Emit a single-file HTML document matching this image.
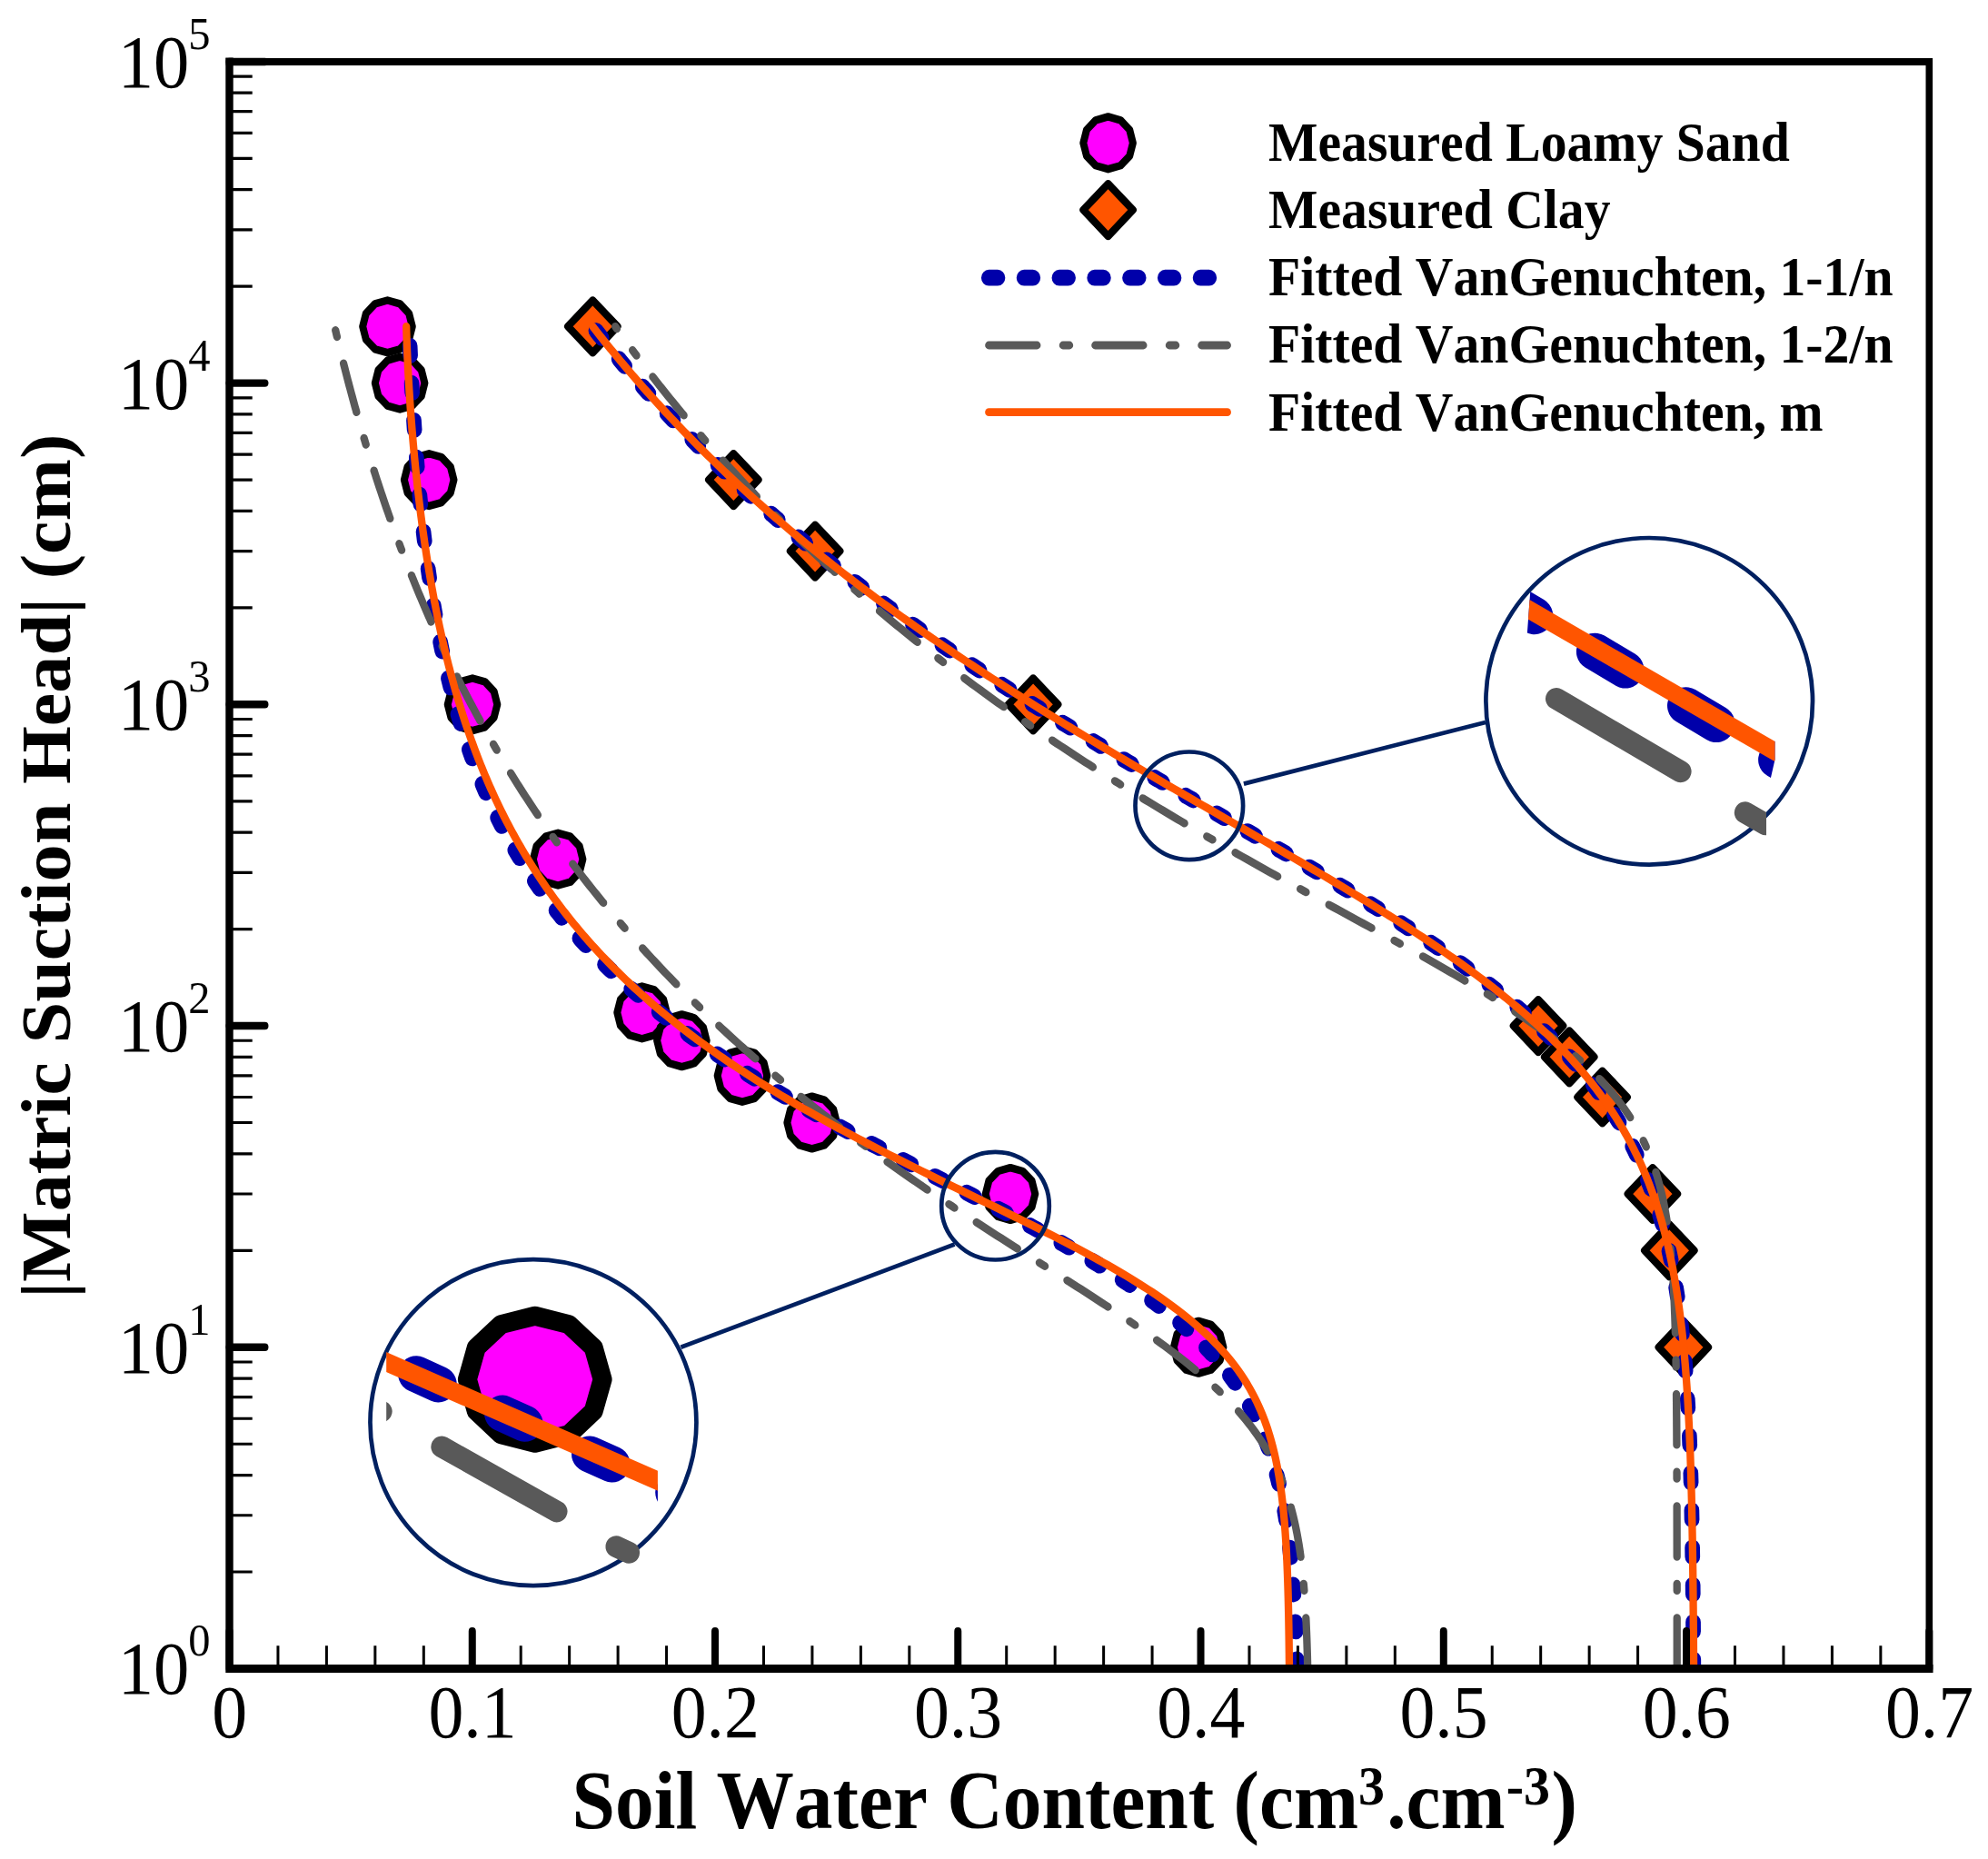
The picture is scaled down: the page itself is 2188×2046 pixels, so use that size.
<!DOCTYPE html>
<html lang="en"><head><meta charset="utf-8"><title>Soil water retention curves</title>
<style>html,body{margin:0;padding:0;background:#fff}svg{display:block}text{font-family:"Liberation Serif","Times New Roman",serif;fill:#000;font-kerning:none}</style></head><body>
<svg xmlns="http://www.w3.org/2000/svg" width="2188" height="2046" viewBox="0 0 2188 2046">
<rect width="2188" height="2046" fill="#fff"/>
<g transform="scale(1,1.057)">
<g fill="#FF00FF" stroke="#000" stroke-width="8.0" stroke-linejoin="round">
<polygon points="426.48,312.66 440.13,316.31 450.13,326.31 453.78,339.96 450.13,353.61 440.13,363.60 426.48,367.26 412.83,363.60 402.84,353.61 399.18,339.96 402.84,326.31 412.83,316.31"/>
<polygon points="440.11,371.58 453.76,375.24 463.76,385.23 467.41,398.88 463.76,412.53 453.76,422.53 440.11,426.18 426.46,422.53 416.47,412.53 412.81,398.88 416.47,385.23 426.46,375.24"/>
<polygon points="472.19,472.32 485.84,475.98 495.83,485.97 499.49,499.62 495.83,513.27 485.84,523.26 472.19,526.92 458.54,523.26 448.54,513.27 444.89,499.62 448.54,485.97 458.54,475.98"/>
<polygon points="520.02,706.23 533.67,709.89 543.67,719.88 547.32,733.53 543.67,747.18 533.67,757.17 520.02,760.83 506.37,757.17 496.38,747.18 492.72,733.53 496.38,719.88 506.37,709.89"/>
<polygon points="614.10,867.36 627.75,871.01 637.74,881.01 641.40,894.66 637.74,908.31 627.75,918.30 614.10,921.96 600.45,918.30 590.46,908.31 586.80,894.66 590.46,881.01 600.45,871.01"/>
<polygon points="706.57,1027.02 720.22,1030.68 730.21,1040.67 733.87,1054.32 730.21,1067.97 720.22,1077.96 706.57,1081.62 692.92,1077.96 682.93,1067.97 679.27,1054.32 682.93,1040.67 692.92,1030.68"/>
<polygon points="750.40,1056.19 764.05,1059.84 774.04,1069.84 777.70,1083.49 774.04,1097.14 764.05,1107.13 750.40,1110.79 736.75,1107.13 726.76,1097.14 723.10,1083.49 726.76,1069.84 736.75,1059.84"/>
<polygon points="816.95,1092.71 830.60,1096.37 840.59,1106.36 844.25,1120.01 840.59,1133.66 830.60,1143.65 816.95,1147.31 803.30,1143.65 793.30,1133.66 789.65,1120.01 793.30,1106.36 803.30,1096.37"/>
<polygon points="893.65,1141.61 907.30,1145.27 917.29,1155.26 920.95,1168.91 917.29,1182.56 907.30,1192.55 893.65,1196.21 880.00,1192.55 870.01,1182.56 866.35,1168.91 870.01,1155.26 880.00,1145.27"/>
<polygon points="1112.00,1215.85 1125.65,1219.51 1135.64,1229.50 1139.30,1243.15 1135.64,1256.80 1125.65,1266.80 1112.00,1270.45 1098.35,1266.80 1088.36,1256.80 1084.70,1243.15 1088.36,1229.50 1098.35,1219.51"/>
<polygon points="1319.12,1375.52 1332.77,1379.18 1342.77,1389.17 1346.42,1402.82 1342.77,1416.47 1332.77,1426.46 1319.12,1430.12 1305.47,1426.46 1295.48,1416.47 1291.82,1402.82 1295.48,1389.17 1305.47,1379.18"/>
<polygon points="1219.60,121.52 1233.25,125.17 1243.24,135.17 1246.90,148.82 1243.24,162.47 1233.25,172.46 1219.60,176.12 1205.95,172.46 1195.96,162.47 1192.30,148.82 1195.96,135.17 1205.95,125.17"/>
</g>
<g fill="#FF5500" stroke="#000" stroke-width="8.0" stroke-linejoin="round">
<polygon points="652.32,312.66 679.62,339.96 652.32,367.26 625.02,339.96"/>
<polygon points="807.33,472.32 834.63,499.62 807.33,526.92 780.03,499.62"/>
<polygon points="897.12,546.56 924.42,573.86 897.12,601.16 869.82,573.86"/>
<polygon points="1137.12,706.23 1164.42,733.53 1137.12,760.83 1109.82,733.53"/>
<polygon points="1693.02,1040.87 1720.32,1068.17 1693.02,1095.47 1665.72,1068.17"/>
<polygon points="1727.22,1073.30 1754.52,1100.60 1727.22,1127.90 1699.92,1100.60"/>
<polygon points="1763.57,1115.11 1790.87,1142.41 1763.57,1169.71 1736.27,1142.41"/>
<polygon points="1818.89,1215.85 1846.19,1243.15 1818.89,1270.45 1791.59,1243.15"/>
<polygon points="1837.33,1274.78 1864.63,1302.08 1837.33,1329.38 1810.03,1302.08"/>
<polygon points="1852.84,1375.52 1880.14,1402.82 1852.84,1430.12 1825.54,1402.82"/>
<polygon points="1219.60,191.34 1246.90,218.64 1219.60,245.94 1192.30,218.64"/>
</g>
<defs><clipPath id="plot"><rect x="252.5" y="64.24" width="1870.80" height="1673.23"/></clipPath></defs>
<g fill="none" stroke-linecap="round" stroke-linejoin="round">
<g stroke="#0000AA" stroke-width="16.7" stroke-dasharray="9.70 29.10">
<g clip-path="url(#plot)"><path d="M1427.42,1737.46 L1427.34,1734.66 L1427.26,1731.86 L1427.18,1729.06 L1427.09,1726.26 L1427.00,1723.46 L1426.91,1720.66 L1426.81,1717.86 L1426.71,1715.06 L1426.61,1712.26 L1426.50,1709.46 L1426.40,1706.66 L1426.28,1703.86 L1426.17,1701.06 L1426.04,1698.26 L1425.92,1695.46 L1425.79,1692.65 L1425.66,1689.85 L1425.52,1687.05 L1425.38,1684.25 L1425.23,1681.45 L1425.08,1678.65 L1424.92,1675.85 L1424.76,1673.05 L1424.59,1670.25 L1424.42,1667.45 L1424.24,1664.65 L1424.06,1661.85 L1423.87,1659.05 L1423.67,1656.25 L1423.47,1653.45 L1423.26,1650.65 L1423.04,1647.84 L1422.81,1645.04 L1422.58,1642.24 L1422.34,1639.44 L1422.10,1636.64 L1421.84,1633.84 L1421.58,1631.04 L1421.31,1628.24 L1421.02,1625.44 L1420.73,1622.64 L1420.43,1619.84 L1420.12,1617.04 L1419.80,1614.24 L1419.47,1611.44 L1419.13,1608.64 L1418.78,1605.84 L1418.42,1603.03 L1418.04,1600.23 L1417.66,1597.43 L1417.26,1594.63 L1416.84,1591.83 L1416.42,1589.03 L1415.98,1586.23 L1415.52,1583.43 L1415.05,1580.63 L1414.57,1577.83 L1414.07,1575.03 L1413.56,1572.23 L1413.03,1569.43 L1412.48,1566.63 L1411.91,1563.83 L1411.33,1561.03 L1410.73,1558.22 L1410.11,1555.42 L1409.47,1552.62 L1408.81,1549.82 L1408.13,1547.02 L1407.42,1544.22 L1406.70,1541.42 L1405.95,1538.62 L1405.18,1535.82 L1404.39,1533.02 L1403.57,1530.22 L1402.73,1527.42 L1401.86,1524.62 L1400.96,1521.82 L1400.04,1519.02 L1399.09,1516.22 L1398.11,1513.41 L1397.10,1510.61 L1396.06,1507.81 L1394.99,1505.01 L1393.89,1502.21 L1392.76,1499.41 L1391.59,1496.61 L1390.39,1493.81 L1389.15,1491.01 L1387.87,1488.21 L1386.56,1485.41 L1385.22,1482.61 L1383.83,1479.81 L1382.40,1477.01 L1380.94,1474.21 L1379.43,1471.41 L1377.88,1468.61 L1376.28,1465.80 L1374.65,1463.00 L1372.96,1460.20 L1371.23,1457.40 L1369.46,1454.60 L1367.63,1451.80 L1365.76,1449.00 L1363.84,1446.20 L1361.87,1443.40 L1359.84,1440.60 L1357.77,1437.80 L1355.64,1435.00 L1353.45,1432.20 L1351.21,1429.40 L1348.91,1426.60 L1346.56,1423.80 L1344.15,1420.99 L1341.68,1418.19 L1339.15,1415.39 L1336.56,1412.59 L1333.91,1409.79 L1331.20,1406.99 L1328.43,1404.19 L1325.59,1401.39 L1322.69,1398.59 L1319.73,1395.79 L1316.70,1392.99 L1313.60,1390.19 L1310.44,1387.39 L1307.22,1384.59 L1303.92,1381.79 L1300.56,1378.99 L1297.14,1376.18 L1293.64,1373.38 L1290.08,1370.58 L1286.45,1367.78 L1282.75,1364.98 L1278.99,1362.18 L1275.15,1359.38 L1271.25,1356.58 L1267.29,1353.78 L1263.25,1350.98 L1259.15,1348.18 L1254.98,1345.38 L1250.75,1342.58 L1246.45,1339.78 L1242.09,1336.98 L1237.66,1334.18 L1233.17,1331.37 L1228.61,1328.57 L1224.00,1325.77 L1219.32,1322.97 L1214.59,1320.17 L1209.79,1317.37 L1204.94,1314.57 L1200.04,1311.77 L1195.07,1308.97 L1190.06,1306.17 L1184.99,1303.37 L1179.87,1300.57 L1174.70,1297.77 L1169.49,1294.97 L1164.22,1292.17 L1158.92,1289.37 L1153.57,1286.56 L1148.18,1283.76 L1142.75,1280.96 L1137.28,1278.16 L1131.78,1275.36 L1126.25,1272.56 L1120.68,1269.76 L1115.08,1266.96 L1109.46,1264.16 L1103.81,1261.36 L1098.13,1258.56 L1092.44,1255.76 L1086.72,1252.96 L1080.99,1250.16 L1075.24,1247.36 L1069.48,1244.56 L1063.70,1241.75 L1057.92,1238.95 L1052.12,1236.15 L1046.33,1233.35 L1040.52,1230.55 L1034.72,1227.75 L1028.91,1224.95 L1023.11,1222.15 L1017.31,1219.35 L1011.52,1216.55 L1005.73,1213.75 L999.96,1210.95 L994.19,1208.15 L988.43,1205.35 L982.69,1202.55 L976.97,1199.75 L971.26,1196.95 L965.57,1194.14 L959.90,1191.34 L954.26,1188.54 L948.63,1185.74 L943.03,1182.94 L937.46,1180.14 L931.91,1177.34 L926.39,1174.54 L920.90,1171.74 L915.44,1168.94 L910.01,1166.14 L904.62,1163.34 L899.25,1160.54 L893.92,1157.74 L888.63,1154.94 L883.37,1152.14 L878.15,1149.33 L872.97,1146.53 L867.82,1143.73 L862.72,1140.93 L857.65,1138.13 L852.62,1135.33 L847.64,1132.53 L842.69,1129.73 L837.79,1126.93 L832.93,1124.13 L828.11,1121.33 L823.33,1118.53 L818.60,1115.73 L813.90,1112.93 L809.26,1110.13 L804.65,1107.33 L800.10,1104.52 L795.58,1101.72 L791.11,1098.92 L786.68,1096.12 L782.30,1093.32 L777.96,1090.52 L773.67,1087.72 L769.42,1084.92 L765.22,1082.12 L761.06,1079.32 L756.94,1076.52 L752.87,1073.72 L748.84,1070.92 L744.86,1068.12 L740.92,1065.32 L737.02,1062.52 L733.17,1059.71 L729.36,1056.91 L725.60,1054.11 L721.88,1051.31 L718.20,1048.51 L714.56,1045.71 L710.97,1042.91 L707.42,1040.11 L703.91,1037.31 L700.44,1034.51 L697.01,1031.71 L693.63,1028.91 L690.28,1026.11 L686.97,1023.31 L683.71,1020.51 L680.48,1017.71 L677.30,1014.90 L674.15,1012.10 L671.05,1009.30 L667.98,1006.50 L664.94,1003.70 L661.95,1000.90 L659.00,998.10 L656.08,995.30 L653.20,992.50 L650.35,989.70 L647.54,986.90 L644.77,984.10 L642.03,981.30 L639.33,978.50 L636.66,975.70 L634.02,972.90 L631.42,970.09 L628.85,967.29 L626.32,964.49 L623.82,961.69 L621.35,958.89 L618.91,956.09 L616.51,953.29 L614.14,950.49 L611.79,947.69 L609.48,944.89 L607.20,942.09 L604.95,939.29 L602.73,936.49 L600.54,933.69 L598.37,930.89 L596.24,928.09 L594.13,925.28 L592.06,922.48 L590.00,919.68 L587.98,916.88 L585.98,914.08 L584.02,911.28 L582.07,908.48 L580.15,905.68 L578.26,902.88 L576.40,900.08 L574.55,897.28 L572.74,894.48 L570.94,891.68 L569.18,888.88 L567.43,886.08 L565.71,883.28 L564.01,880.48 L562.34,877.67 L560.69,874.87 L559.06,872.07 L557.45,869.27 L555.86,866.47 L554.30,863.67 L552.75,860.87 L551.23,858.07 L549.73,855.27 L548.25,852.47 L546.79,849.67 L545.34,846.87 L543.92,844.07 L542.52,841.27 L541.14,838.47 L539.77,835.67 L538.43,832.86 L537.10,830.06 L535.79,827.26 L534.50,824.46 L533.22,821.66 L531.96,818.86 L530.72,816.06 L529.50,813.26 L528.30,810.46 L527.11,807.66 L525.93,804.86 L524.78,802.06 L523.63,799.26 L522.51,796.46 L521.40,793.66 L520.30,790.86 L519.22,788.05 L518.16,785.25 L517.11,782.45 L516.07,779.65 L515.05,776.85 L514.04,774.05 L513.05,771.25 L512.06,768.45 L511.10,765.65 L510.14,762.85 L509.20,760.05 L508.27,757.25 L507.36,754.45 L506.46,751.65 L505.57,748.85 L504.69,746.05 L503.82,743.24 L502.97,740.44 L502.13,737.64 L501.30,734.84 L500.48,732.04 L499.67,729.24 L498.87,726.44 L498.09,723.64 L497.31,720.84 L496.55,718.04 L495.79,715.24 L495.05,712.44 L494.31,709.64 L493.59,706.84 L492.88,704.04 L492.17,701.24 L491.48,698.43 L490.80,695.63 L490.12,692.83 L489.46,690.03 L488.80,687.23 L488.15,684.43 L487.51,681.63 L486.88,678.83 L486.26,676.03 L485.65,673.23 L485.05,670.43 L484.45,667.63 L483.86,664.83 L483.28,662.03 L482.71,659.23 L482.15,656.43 L481.59,653.62 L481.05,650.82 L480.51,648.02 L479.97,645.22 L479.45,642.42 L478.93,639.62 L478.42,636.82 L477.91,634.02 L477.42,631.22 L476.92,628.42 L476.44,625.62 L475.96,622.82 L475.49,620.02 L475.03,617.22 L474.57,614.42 L474.12,611.62 L473.68,608.81 L473.24,606.01 L472.80,603.21 L472.38,600.41 L471.96,597.61 L471.54,594.81 L471.13,592.01 L470.73,589.21 L470.33,586.41 L469.94,583.61 L469.55,580.81 L469.17,578.01 L468.79,575.21 L468.42,572.41 L468.05,569.61 L467.69,566.81 L467.34,564.01 L466.98,561.20 L466.64,558.40 L466.30,555.60 L465.96,552.80 L465.63,550.00 L465.30,547.20 L464.98,544.40 L464.66,541.60 L464.34,538.80 L464.03,536.00 L463.73,533.20 L463.42,530.40 L463.13,527.60 L462.83,524.80 L462.54,522.00 L462.26,519.20 L461.98,516.39 L461.70,513.59 L461.43,510.79 L461.16,507.99 L460.89,505.19 L460.63,502.39 L460.37,499.59 L460.11,496.79 L459.86,493.99 L459.61,491.19 L459.37,488.39 L459.13,485.59 L458.89,482.79 L458.66,479.99 L458.42,477.19 L458.20,474.39 L457.97,471.58 L457.75,468.78 L457.53,465.98 L457.31,463.18 L457.10,460.38 L456.89,457.58 L456.68,454.78 L456.48,451.98 L456.28,449.18 L456.08,446.38 L455.88,443.58 L455.69,440.78 L455.50,437.98 L455.31,435.18 L455.12,432.38 L454.94,429.58 L454.76,426.77 L454.58,423.97 L454.41,421.17 L454.23,418.37 L454.06,415.57 L453.90,412.77 L453.73,409.97 L453.57,407.17 L453.41,404.37 L453.25,401.57 L453.09,398.77 L452.93,395.97 L452.78,393.17 L452.63,390.37 L452.48,387.57 L452.34,384.77 L452.19,381.96 L452.05,379.16 L451.91,376.36 L451.77,373.56 L451.63,370.76 L451.50,367.96 L451.37,365.16 L451.24,362.36 L451.11,359.56 L450.98,356.76 L450.85,353.96 L450.73,351.16 L450.61,348.36 L450.49,345.56 L450.37,342.76 L450.25,339.96"/><path d="M1863.85,1737.46 L1863.83,1734.66 L1863.82,1731.86 L1863.80,1729.06 L1863.79,1726.26 L1863.77,1723.46 L1863.75,1720.66 L1863.73,1717.86 L1863.72,1715.06 L1863.70,1712.26 L1863.68,1709.46 L1863.66,1706.66 L1863.64,1703.86 L1863.62,1701.06 L1863.60,1698.26 L1863.58,1695.46 L1863.56,1692.65 L1863.54,1689.85 L1863.51,1687.05 L1863.49,1684.25 L1863.47,1681.45 L1863.44,1678.65 L1863.42,1675.85 L1863.39,1673.05 L1863.36,1670.25 L1863.34,1667.45 L1863.31,1664.65 L1863.28,1661.85 L1863.25,1659.05 L1863.22,1656.25 L1863.19,1653.45 L1863.16,1650.65 L1863.13,1647.84 L1863.09,1645.04 L1863.06,1642.24 L1863.03,1639.44 L1862.99,1636.64 L1862.95,1633.84 L1862.92,1631.04 L1862.88,1628.24 L1862.84,1625.44 L1862.80,1622.64 L1862.76,1619.84 L1862.71,1617.04 L1862.67,1614.24 L1862.63,1611.44 L1862.58,1608.64 L1862.53,1605.84 L1862.48,1603.03 L1862.44,1600.23 L1862.38,1597.43 L1862.33,1594.63 L1862.28,1591.83 L1862.23,1589.03 L1862.17,1586.23 L1862.11,1583.43 L1862.05,1580.63 L1861.99,1577.83 L1861.93,1575.03 L1861.87,1572.23 L1861.80,1569.43 L1861.74,1566.63 L1861.67,1563.83 L1861.60,1561.03 L1861.53,1558.22 L1861.45,1555.42 L1861.38,1552.62 L1861.30,1549.82 L1861.22,1547.02 L1861.14,1544.22 L1861.06,1541.42 L1860.97,1538.62 L1860.89,1535.82 L1860.80,1533.02 L1860.71,1530.22 L1860.61,1527.42 L1860.52,1524.62 L1860.42,1521.82 L1860.32,1519.02 L1860.21,1516.22 L1860.11,1513.41 L1860.00,1510.61 L1859.88,1507.81 L1859.77,1505.01 L1859.65,1502.21 L1859.53,1499.41 L1859.41,1496.61 L1859.28,1493.81 L1859.15,1491.01 L1859.02,1488.21 L1858.88,1485.41 L1858.75,1482.61 L1858.60,1479.81 L1858.46,1477.01 L1858.31,1474.21 L1858.15,1471.41 L1857.99,1468.61 L1857.83,1465.80 L1857.67,1463.00 L1857.50,1460.20 L1857.32,1457.40 L1857.15,1454.60 L1856.96,1451.80 L1856.78,1449.00 L1856.58,1446.20 L1856.39,1443.40 L1856.19,1440.60 L1855.98,1437.80 L1855.77,1435.00 L1855.55,1432.20 L1855.33,1429.40 L1855.10,1426.60 L1854.87,1423.80 L1854.63,1420.99 L1854.39,1418.19 L1854.14,1415.39 L1853.88,1412.59 L1853.62,1409.79 L1853.35,1406.99 L1853.07,1404.19 L1852.79,1401.39 L1852.50,1398.59 L1852.20,1395.79 L1851.90,1392.99 L1851.59,1390.19 L1851.27,1387.39 L1850.94,1384.59 L1850.61,1381.79 L1850.27,1378.99 L1849.92,1376.18 L1849.56,1373.38 L1849.19,1370.58 L1848.81,1367.78 L1848.43,1364.98 L1848.03,1362.18 L1847.63,1359.38 L1847.21,1356.58 L1846.79,1353.78 L1846.36,1350.98 L1845.91,1348.18 L1845.46,1345.38 L1844.99,1342.58 L1844.51,1339.78 L1844.03,1336.98 L1843.53,1334.18 L1843.01,1331.37 L1842.49,1328.57 L1841.95,1325.77 L1841.41,1322.97 L1840.84,1320.17 L1840.27,1317.37 L1839.68,1314.57 L1839.08,1311.77 L1838.46,1308.97 L1837.83,1306.17 L1837.19,1303.37 L1836.53,1300.57 L1835.85,1297.77 L1835.16,1294.97 L1834.46,1292.17 L1833.74,1289.37 L1833.00,1286.56 L1832.24,1283.76 L1831.47,1280.96 L1830.68,1278.16 L1829.87,1275.36 L1829.04,1272.56 L1828.20,1269.76 L1827.34,1266.96 L1826.45,1264.16 L1825.55,1261.36 L1824.63,1258.56 L1823.68,1255.76 L1822.72,1252.96 L1821.74,1250.16 L1820.73,1247.36 L1819.70,1244.56 L1818.65,1241.75 L1817.58,1238.95 L1816.48,1236.15 L1815.36,1233.35 L1814.21,1230.55 L1813.04,1227.75 L1811.85,1224.95 L1810.63,1222.15 L1809.39,1219.35 L1808.12,1216.55 L1806.82,1213.75 L1805.50,1210.95 L1804.14,1208.15 L1802.77,1205.35 L1801.36,1202.55 L1799.92,1199.75 L1798.46,1196.95 L1796.96,1194.14 L1795.44,1191.34 L1793.88,1188.54 L1792.30,1185.74 L1790.68,1182.94 L1789.03,1180.14 L1787.35,1177.34 L1785.64,1174.54 L1783.89,1171.74 L1782.12,1168.94 L1780.30,1166.14 L1778.46,1163.34 L1776.57,1160.54 L1774.66,1157.74 L1772.71,1154.94 L1770.72,1152.14 L1768.70,1149.33 L1766.64,1146.53 L1764.54,1143.73 L1762.41,1140.93 L1760.23,1138.13 L1758.03,1135.33 L1755.78,1132.53 L1753.49,1129.73 L1751.17,1126.93 L1748.80,1124.13 L1746.40,1121.33 L1743.96,1118.53 L1741.48,1115.73 L1738.95,1112.93 L1736.39,1110.13 L1733.78,1107.33 L1731.14,1104.52 L1728.45,1101.72 L1725.73,1098.92 L1722.96,1096.12 L1720.15,1093.32 L1717.29,1090.52 L1714.40,1087.72 L1711.46,1084.92 L1708.49,1082.12 L1705.47,1079.32 L1702.40,1076.52 L1699.30,1073.72 L1696.15,1070.92 L1692.96,1068.12 L1689.73,1065.32 L1686.46,1062.52 L1683.14,1059.71 L1679.79,1056.91 L1676.39,1054.11 L1672.95,1051.31 L1669.46,1048.51 L1665.94,1045.71 L1662.37,1042.91 L1658.77,1040.11 L1655.12,1037.31 L1651.43,1034.51 L1647.70,1031.71 L1643.93,1028.91 L1640.13,1026.11 L1636.28,1023.31 L1632.39,1020.51 L1628.47,1017.71 L1624.50,1014.90 L1620.50,1012.10 L1616.46,1009.30 L1612.38,1006.50 L1608.27,1003.70 L1604.12,1000.90 L1599.94,998.10 L1595.71,995.30 L1591.46,992.50 L1587.17,989.70 L1582.85,986.90 L1578.49,984.10 L1574.10,981.30 L1569.68,978.50 L1565.23,975.70 L1560.75,972.90 L1556.23,970.09 L1551.69,967.29 L1547.12,964.49 L1542.52,961.69 L1537.89,958.89 L1533.24,956.09 L1528.56,953.29 L1523.86,950.49 L1519.13,947.69 L1514.37,944.89 L1509.60,942.09 L1504.80,939.29 L1499.98,936.49 L1495.13,933.69 L1490.27,930.89 L1485.39,928.09 L1480.49,925.28 L1475.57,922.48 L1470.63,919.68 L1465.68,916.88 L1460.71,914.08 L1455.73,911.28 L1450.73,908.48 L1445.72,905.68 L1440.69,902.88 L1435.65,900.08 L1430.61,897.28 L1425.55,894.48 L1420.48,891.68 L1415.40,888.88 L1410.31,886.08 L1405.21,883.28 L1400.11,880.48 L1395.00,877.67 L1389.89,874.87 L1384.77,872.07 L1379.64,869.27 L1374.51,866.47 L1369.38,863.67 L1364.24,860.87 L1359.11,858.07 L1353.97,855.27 L1348.83,852.47 L1343.69,849.67 L1338.55,846.87 L1333.42,844.07 L1328.28,841.27 L1323.15,838.47 L1318.02,835.67 L1312.89,832.86 L1307.77,830.06 L1302.65,827.26 L1297.54,824.46 L1292.43,821.66 L1287.33,818.86 L1282.23,816.06 L1277.14,813.26 L1272.06,810.46 L1266.99,807.66 L1261.92,804.86 L1256.87,802.06 L1251.82,799.26 L1246.78,796.46 L1241.75,793.66 L1236.74,790.86 L1231.73,788.05 L1226.74,785.25 L1221.75,782.45 L1216.78,779.65 L1211.82,776.85 L1206.87,774.05 L1201.94,771.25 L1197.02,768.45 L1192.11,765.65 L1187.22,762.85 L1182.34,760.05 L1177.47,757.25 L1172.62,754.45 L1167.78,751.65 L1162.96,748.85 L1158.16,746.05 L1153.37,743.24 L1148.59,740.44 L1143.83,737.64 L1139.09,734.84 L1134.36,732.04 L1129.66,729.24 L1124.96,726.44 L1120.29,723.64 L1115.63,720.84 L1110.99,718.04 L1106.37,715.24 L1101.76,712.44 L1097.17,709.64 L1092.60,706.84 L1088.05,704.04 L1083.52,701.24 L1079.00,698.43 L1074.50,695.63 L1070.02,692.83 L1065.56,690.03 L1061.12,687.23 L1056.70,684.43 L1052.29,681.63 L1047.91,678.83 L1043.54,676.03 L1039.19,673.23 L1034.87,670.43 L1030.56,667.63 L1026.27,664.83 L1022.00,662.03 L1017.75,659.23 L1013.51,656.43 L1009.30,653.62 L1005.11,650.82 L1000.93,648.02 L996.78,645.22 L992.64,642.42 L988.53,639.62 L984.43,636.82 L980.36,634.02 L976.30,631.22 L972.26,628.42 L968.24,625.62 L964.24,622.82 L960.26,620.02 L956.30,617.22 L952.36,614.42 L948.44,611.62 L944.54,608.81 L940.66,606.01 L936.80,603.21 L932.95,600.41 L929.13,597.61 L925.33,594.81 L921.54,592.01 L917.77,589.21 L914.03,586.41 L910.30,583.61 L906.59,580.81 L902.90,578.01 L899.23,575.21 L895.58,572.41 L891.95,569.61 L888.33,566.81 L884.74,564.01 L881.16,561.20 L877.60,558.40 L874.06,555.60 L870.54,552.80 L867.04,550.00 L863.56,547.20 L860.10,544.40 L856.65,541.60 L853.22,538.80 L849.81,536.00 L846.42,533.20 L843.05,530.40 L839.69,527.60 L836.36,524.80 L833.04,522.00 L829.73,519.20 L826.45,516.39 L823.19,513.59 L819.94,510.79 L816.71,507.99 L813.49,505.19 L810.30,502.39 L807.12,499.59 L803.96,496.79 L800.82,493.99 L797.69,491.19 L794.58,488.39 L791.49,485.59 L788.41,482.79 L785.36,479.99 L782.32,477.19 L779.29,474.39 L776.28,471.58 L773.29,468.78 L770.32,465.98 L767.36,463.18 L764.42,460.38 L761.49,457.58 L758.58,454.78 L755.69,451.98 L752.81,449.18 L749.95,446.38 L747.11,443.58 L744.28,440.78 L741.46,437.98 L738.66,435.18 L735.88,432.38 L733.12,429.58 L730.36,426.77 L727.63,423.97 L724.91,421.17 L722.20,418.37 L719.51,415.57 L716.84,412.77 L714.18,409.97 L711.53,407.17 L708.90,404.37 L706.29,401.57 L703.69,398.77 L701.10,395.97 L698.53,393.17 L695.97,390.37 L693.43,387.57 L690.90,384.77 L688.39,381.96 L685.89,379.16 L683.40,376.36 L680.93,373.56 L678.47,370.76 L676.03,367.96 L673.60,365.16 L671.18,362.36 L668.78,359.56 L666.39,356.76 L664.02,353.96 L661.66,351.16 L659.31,348.36 L656.97,345.56 L654.65,342.76 L652.34,339.96"/></g>
<path d="M1088.3,289.21 H1350.8"/>
</g>
<g stroke="#595959" stroke-width="8.3" stroke-dasharray="52.825 28.506 7.126 28.207">
<g clip-path="url(#plot)"><path d="M1439.24,1737.46 L1439.18,1734.66 L1439.11,1731.86 L1439.03,1729.06 L1438.96,1726.26 L1438.88,1723.46 L1438.79,1720.66 L1438.71,1717.86 L1438.61,1715.06 L1438.52,1712.26 L1438.42,1709.46 L1438.32,1706.66 L1438.21,1703.86 L1438.09,1701.06 L1437.98,1698.26 L1437.85,1695.46 L1437.72,1692.65 L1437.59,1689.85 L1437.45,1687.05 L1437.30,1684.25 L1437.15,1681.45 L1436.99,1678.65 L1436.82,1675.85 L1436.64,1673.05 L1436.46,1670.25 L1436.27,1667.45 L1436.07,1664.65 L1435.86,1661.85 L1435.65,1659.05 L1435.42,1656.25 L1435.18,1653.45 L1434.94,1650.65 L1434.68,1647.84 L1434.41,1645.04 L1434.13,1642.24 L1433.84,1639.44 L1433.54,1636.64 L1433.22,1633.84 L1432.89,1631.04 L1432.54,1628.24 L1432.18,1625.44 L1431.80,1622.64 L1431.41,1619.84 L1431.00,1617.04 L1430.58,1614.24 L1430.13,1611.44 L1429.67,1608.64 L1429.19,1605.84 L1428.69,1603.03 L1428.16,1600.23 L1427.62,1597.43 L1427.05,1594.63 L1426.46,1591.83 L1425.85,1589.03 L1425.21,1586.23 L1424.54,1583.43 L1423.85,1580.63 L1423.13,1577.83 L1422.38,1575.03 L1421.61,1572.23 L1420.80,1569.43 L1419.96,1566.63 L1419.09,1563.83 L1418.18,1561.03 L1417.24,1558.22 L1416.26,1555.42 L1415.25,1552.62 L1414.19,1549.82 L1413.10,1547.02 L1411.97,1544.22 L1410.80,1541.42 L1409.58,1538.62 L1408.32,1535.82 L1407.02,1533.02 L1405.67,1530.22 L1404.27,1527.42 L1402.83,1524.62 L1401.33,1521.82 L1399.79,1519.02 L1398.19,1516.22 L1396.54,1513.41 L1394.84,1510.61 L1393.08,1507.81 L1391.27,1505.01 L1389.40,1502.21 L1387.48,1499.41 L1385.49,1496.61 L1383.45,1493.81 L1381.35,1491.01 L1379.19,1488.21 L1376.96,1485.41 L1374.68,1482.61 L1372.33,1479.81 L1369.92,1477.01 L1367.45,1474.21 L1364.91,1471.41 L1362.31,1468.61 L1359.65,1465.80 L1356.92,1463.00 L1354.13,1460.20 L1351.28,1457.40 L1348.36,1454.60 L1345.38,1451.80 L1342.34,1449.00 L1339.23,1446.20 L1336.06,1443.40 L1332.83,1440.60 L1329.54,1437.80 L1326.19,1435.00 L1322.78,1432.20 L1319.31,1429.40 L1315.79,1426.60 L1312.21,1423.80 L1308.57,1420.99 L1304.88,1418.19 L1301.13,1415.39 L1297.34,1412.59 L1293.49,1409.79 L1289.59,1406.99 L1285.65,1404.19 L1281.66,1401.39 L1277.62,1398.59 L1273.55,1395.79 L1269.43,1392.99 L1265.27,1390.19 L1261.07,1387.39 L1256.84,1384.59 L1252.57,1381.79 L1248.26,1378.99 L1243.93,1376.18 L1239.56,1373.38 L1235.17,1370.58 L1230.75,1367.78 L1226.30,1364.98 L1221.83,1362.18 L1217.34,1359.38 L1212.82,1356.58 L1208.29,1353.78 L1203.74,1350.98 L1199.18,1348.18 L1194.60,1345.38 L1190.00,1342.58 L1185.40,1339.78 L1180.78,1336.98 L1176.16,1334.18 L1171.53,1331.37 L1166.89,1328.57 L1162.24,1325.77 L1157.60,1322.97 L1152.95,1320.17 L1148.29,1317.37 L1143.64,1314.57 L1138.99,1311.77 L1134.34,1308.97 L1129.69,1306.17 L1125.05,1303.37 L1120.41,1300.57 L1115.78,1297.77 L1111.15,1294.97 L1106.53,1292.17 L1101.92,1289.37 L1097.32,1286.56 L1092.72,1283.76 L1088.14,1280.96 L1083.56,1278.16 L1079.00,1275.36 L1074.45,1272.56 L1069.92,1269.76 L1065.39,1266.96 L1060.88,1264.16 L1056.38,1261.36 L1051.90,1258.56 L1047.43,1255.76 L1042.98,1252.96 L1038.55,1250.16 L1034.13,1247.36 L1029.72,1244.56 L1025.34,1241.75 L1020.97,1238.95 L1016.62,1236.15 L1012.28,1233.35 L1007.97,1230.55 L1003.67,1227.75 L999.39,1224.95 L995.13,1222.15 L990.89,1219.35 L986.66,1216.55 L982.46,1213.75 L978.28,1210.95 L974.11,1208.15 L969.97,1205.35 L965.84,1202.55 L961.73,1199.75 L957.65,1196.95 L953.58,1194.14 L949.54,1191.34 L945.51,1188.54 L941.51,1185.74 L937.52,1182.94 L933.55,1180.14 L929.61,1177.34 L925.68,1174.54 L921.78,1171.74 L917.90,1168.94 L914.03,1166.14 L910.19,1163.34 L906.37,1160.54 L902.56,1157.74 L898.78,1154.94 L895.02,1152.14 L891.28,1149.33 L887.56,1146.53 L883.86,1143.73 L880.17,1140.93 L876.51,1138.13 L872.87,1135.33 L869.25,1132.53 L865.65,1129.73 L862.07,1126.93 L858.51,1124.13 L854.97,1121.33 L851.44,1118.53 L847.94,1115.73 L844.46,1112.93 L841.00,1110.13 L837.55,1107.33 L834.13,1104.52 L830.72,1101.72 L827.34,1098.92 L823.97,1096.12 L820.62,1093.32 L817.29,1090.52 L813.99,1087.72 L810.69,1084.92 L807.42,1082.12 L804.17,1079.32 L800.93,1076.52 L797.72,1073.72 L794.52,1070.92 L791.34,1068.12 L788.18,1065.32 L785.04,1062.52 L781.91,1059.71 L778.81,1056.91 L775.72,1054.11 L772.65,1051.31 L769.59,1048.51 L766.56,1045.71 L763.54,1042.91 L760.54,1040.11 L757.55,1037.31 L754.59,1034.51 L751.64,1031.71 L748.71,1028.91 L745.79,1026.11 L742.89,1023.31 L740.01,1020.51 L737.15,1017.71 L734.30,1014.90 L731.47,1012.10 L728.65,1009.30 L725.85,1006.50 L723.07,1003.70 L720.31,1000.90 L717.56,998.10 L714.82,995.30 L712.10,992.50 L709.40,989.70 L706.72,986.90 L704.05,984.10 L701.39,981.30 L698.75,978.50 L696.13,975.70 L693.52,972.90 L690.92,970.09 L688.35,967.29 L685.78,964.49 L683.23,961.69 L680.70,958.89 L678.18,956.09 L675.68,953.29 L673.19,950.49 L670.71,947.69 L668.25,944.89 L665.81,942.09 L663.38,939.29 L660.96,936.49 L658.56,933.69 L656.17,930.89 L653.79,928.09 L651.43,925.28 L649.08,922.48 L646.75,919.68 L644.43,916.88 L642.12,914.08 L639.83,911.28 L637.55,908.48 L635.28,905.68 L633.03,902.88 L630.79,900.08 L628.56,897.28 L626.35,894.48 L624.15,891.68 L621.96,888.88 L619.79,886.08 L617.63,883.28 L615.48,880.48 L613.34,877.67 L611.22,874.87 L609.10,872.07 L607.00,869.27 L604.92,866.47 L602.84,863.67 L600.78,860.87 L598.73,858.07 L596.69,855.27 L594.66,852.47 L592.65,849.67 L590.65,846.87 L588.65,844.07 L586.68,841.27 L584.71,838.47 L582.75,835.67 L580.81,832.86 L578.87,830.06 L576.95,827.26 L575.04,824.46 L573.14,821.66 L571.25,818.86 L569.37,816.06 L567.51,813.26 L565.65,810.46 L563.81,807.66 L561.97,804.86 L560.15,802.06 L558.34,799.26 L556.54,796.46 L554.75,793.66 L552.97,790.86 L551.19,788.05 L549.44,785.25 L547.69,782.45 L545.95,779.65 L544.22,776.85 L542.50,774.05 L540.79,771.25 L539.09,768.45 L537.40,765.65 L535.72,762.85 L534.05,760.05 L532.40,757.25 L530.75,754.45 L529.11,751.65 L527.48,748.85 L525.86,746.05 L524.24,743.24 L522.64,740.44 L521.05,737.64 L519.47,734.84 L517.89,732.04 L516.33,729.24 L514.77,726.44 L513.23,723.64 L511.69,720.84 L510.16,718.04 L508.64,715.24 L507.13,712.44 L505.63,709.64 L504.14,706.84 L502.66,704.04 L501.18,701.24 L499.72,698.43 L498.26,695.63 L496.81,692.83 L495.37,690.03 L493.94,687.23 L492.51,684.43 L491.10,681.63 L489.69,678.83 L488.29,676.03 L486.90,673.23 L485.52,670.43 L484.14,667.63 L482.78,664.83 L481.42,662.03 L480.07,659.23 L478.73,656.43 L477.39,653.62 L476.06,650.82 L474.75,648.02 L473.43,645.22 L472.13,642.42 L470.84,639.62 L469.55,636.82 L468.27,634.02 L466.99,631.22 L465.73,628.42 L464.47,625.62 L463.22,622.82 L461.98,620.02 L460.74,617.22 L459.51,614.42 L458.29,611.62 L457.07,608.81 L455.87,606.01 L454.67,603.21 L453.47,600.41 L452.29,597.61 L451.11,594.81 L449.93,592.01 L448.77,589.21 L447.61,586.41 L446.46,583.61 L445.31,580.81 L444.17,578.01 L443.04,575.21 L441.92,572.41 L440.80,569.61 L439.69,566.81 L438.58,564.01 L437.48,561.20 L436.39,558.40 L435.30,555.60 L434.22,552.80 L433.15,550.00 L432.08,547.20 L431.02,544.40 L429.97,541.60 L428.92,538.80 L427.88,536.00 L426.84,533.20 L425.81,530.40 L424.79,527.60 L423.77,524.80 L422.76,522.00 L421.75,519.20 L420.75,516.39 L419.76,513.59 L418.77,510.79 L417.79,507.99 L416.81,505.19 L415.84,502.39 L414.87,499.59 L413.91,496.79 L412.96,493.99 L412.01,491.19 L411.07,488.39 L410.13,485.59 L409.20,482.79 L408.27,479.99 L407.35,477.19 L406.43,474.39 L405.52,471.58 L404.62,468.78 L403.72,465.98 L402.83,463.18 L401.94,460.38 L401.05,457.58 L400.17,454.78 L399.30,451.98 L398.43,449.18 L397.57,446.38 L396.71,443.58 L395.86,440.78 L395.01,437.98 L394.17,435.18 L393.33,432.38 L392.49,429.58 L391.67,426.77 L390.84,423.97 L390.02,421.17 L389.21,418.37 L388.40,415.57 L387.60,412.77 L386.80,409.97 L386.00,407.17 L385.21,404.37 L384.42,401.57 L383.64,398.77 L382.87,395.97 L382.10,393.17 L381.33,390.37 L380.56,387.57 L379.81,384.77 L379.05,381.96 L378.30,379.16 L377.56,376.36 L376.82,373.56 L376.08,370.76 L375.35,367.96 L374.62,365.16 L373.90,362.36 L373.18,359.56 L372.46,356.76 L371.75,353.96 L371.04,351.16 L370.34,348.36 L369.64,345.56 L368.95,342.76 L368.26,339.96"/><path stroke-dasharray="52.762 28.471 7.118 28.173" d="M1845.72,1737.46 L1845.72,1734.66 L1845.72,1731.86 L1845.72,1729.06 L1845.72,1726.26 L1845.72,1723.46 L1845.72,1720.66 L1845.72,1717.86 L1845.71,1715.06 L1845.71,1712.26 L1845.71,1709.46 L1845.71,1706.66 L1845.71,1703.86 L1845.71,1701.06 L1845.71,1698.26 L1845.71,1695.46 L1845.71,1692.65 L1845.71,1689.85 L1845.71,1687.05 L1845.71,1684.25 L1845.71,1681.45 L1845.71,1678.65 L1845.71,1675.85 L1845.70,1673.05 L1845.70,1670.25 L1845.70,1667.45 L1845.70,1664.65 L1845.70,1661.85 L1845.70,1659.05 L1845.70,1656.25 L1845.70,1653.45 L1845.69,1650.65 L1845.69,1647.84 L1845.69,1645.04 L1845.69,1642.24 L1845.69,1639.44 L1845.69,1636.64 L1845.69,1633.84 L1845.68,1631.04 L1845.68,1628.24 L1845.68,1625.44 L1845.68,1622.64 L1845.68,1619.84 L1845.67,1617.04 L1845.67,1614.24 L1845.67,1611.44 L1845.67,1608.64 L1845.66,1605.84 L1845.66,1603.03 L1845.66,1600.23 L1845.65,1597.43 L1845.65,1594.63 L1845.65,1591.83 L1845.64,1589.03 L1845.64,1586.23 L1845.64,1583.43 L1845.63,1580.63 L1845.63,1577.83 L1845.62,1575.03 L1845.62,1572.23 L1845.61,1569.43 L1845.61,1566.63 L1845.60,1563.83 L1845.60,1561.03 L1845.59,1558.22 L1845.59,1555.42 L1845.58,1552.62 L1845.57,1549.82 L1845.57,1547.02 L1845.56,1544.22 L1845.55,1541.42 L1845.55,1538.62 L1845.54,1535.82 L1845.53,1533.02 L1845.52,1530.22 L1845.51,1527.42 L1845.50,1524.62 L1845.49,1521.82 L1845.48,1519.02 L1845.47,1516.22 L1845.46,1513.41 L1845.45,1510.61 L1845.43,1507.81 L1845.42,1505.01 L1845.41,1502.21 L1845.39,1499.41 L1845.38,1496.61 L1845.36,1493.81 L1845.35,1491.01 L1845.33,1488.21 L1845.31,1485.41 L1845.29,1482.61 L1845.28,1479.81 L1845.26,1477.01 L1845.23,1474.21 L1845.21,1471.41 L1845.19,1468.61 L1845.17,1465.80 L1845.14,1463.00 L1845.12,1460.20 L1845.09,1457.40 L1845.06,1454.60 L1845.03,1451.80 L1845.00,1449.00 L1844.97,1446.20 L1844.93,1443.40 L1844.90,1440.60 L1844.86,1437.80 L1844.82,1435.00 L1844.78,1432.20 L1844.74,1429.40 L1844.70,1426.60 L1844.65,1423.80 L1844.61,1420.99 L1844.56,1418.19 L1844.51,1415.39 L1844.45,1412.59 L1844.39,1409.79 L1844.34,1406.99 L1844.27,1404.19 L1844.21,1401.39 L1844.14,1398.59 L1844.07,1395.79 L1844.00,1392.99 L1843.92,1390.19 L1843.85,1387.39 L1843.76,1384.59 L1843.68,1381.79 L1843.59,1378.99 L1843.49,1376.18 L1843.39,1373.38 L1843.29,1370.58 L1843.18,1367.78 L1843.07,1364.98 L1842.95,1362.18 L1842.83,1359.38 L1842.70,1356.58 L1842.57,1353.78 L1842.43,1350.98 L1842.29,1348.18 L1842.14,1345.38 L1841.98,1342.58 L1841.82,1339.78 L1841.64,1336.98 L1841.47,1334.18 L1841.28,1331.37 L1841.09,1328.57 L1840.88,1325.77 L1840.67,1322.97 L1840.45,1320.17 L1840.22,1317.37 L1839.98,1314.57 L1839.73,1311.77 L1839.47,1308.97 L1839.20,1306.17 L1838.91,1303.37 L1838.62,1300.57 L1838.31,1297.77 L1837.99,1294.97 L1837.65,1292.17 L1837.30,1289.37 L1836.94,1286.56 L1836.56,1283.76 L1836.17,1280.96 L1835.76,1278.16 L1835.33,1275.36 L1834.88,1272.56 L1834.42,1269.76 L1833.93,1266.96 L1833.43,1264.16 L1832.91,1261.36 L1832.36,1258.56 L1831.79,1255.76 L1831.20,1252.96 L1830.59,1250.16 L1829.95,1247.36 L1829.28,1244.56 L1828.59,1241.75 L1827.87,1238.95 L1827.12,1236.15 L1826.35,1233.35 L1825.54,1230.55 L1824.70,1227.75 L1823.83,1224.95 L1822.92,1222.15 L1821.98,1219.35 L1821.01,1216.55 L1819.99,1213.75 L1818.94,1210.95 L1817.85,1208.15 L1816.72,1205.35 L1815.55,1202.55 L1814.34,1199.75 L1813.08,1196.95 L1811.77,1194.14 L1810.42,1191.34 L1809.03,1188.54 L1807.58,1185.74 L1806.08,1182.94 L1804.53,1180.14 L1802.93,1177.34 L1801.28,1174.54 L1799.57,1171.74 L1797.80,1168.94 L1795.98,1166.14 L1794.10,1163.34 L1792.16,1160.54 L1790.15,1157.74 L1788.09,1154.94 L1785.97,1152.14 L1783.78,1149.33 L1781.52,1146.53 L1779.20,1143.73 L1776.81,1140.93 L1774.36,1138.13 L1771.84,1135.33 L1769.25,1132.53 L1766.59,1129.73 L1763.86,1126.93 L1761.07,1124.13 L1758.20,1121.33 L1755.26,1118.53 L1752.25,1115.73 L1749.17,1112.93 L1746.01,1110.13 L1742.79,1107.33 L1739.49,1104.52 L1736.13,1101.72 L1732.69,1098.92 L1729.19,1096.12 L1725.61,1093.32 L1721.96,1090.52 L1718.25,1087.72 L1714.47,1084.92 L1710.62,1082.12 L1706.70,1079.32 L1702.72,1076.52 L1698.67,1073.72 L1694.56,1070.92 L1690.39,1068.12 L1686.16,1065.32 L1681.86,1062.52 L1677.51,1059.71 L1673.10,1056.91 L1668.64,1054.11 L1664.12,1051.31 L1659.55,1048.51 L1654.92,1045.71 L1650.25,1042.91 L1645.53,1040.11 L1640.76,1037.31 L1635.95,1034.51 L1631.09,1031.71 L1626.20,1028.91 L1621.26,1026.11 L1616.29,1023.31 L1611.28,1020.51 L1606.23,1017.71 L1601.15,1014.90 L1596.04,1012.10 L1590.90,1009.30 L1585.74,1006.50 L1580.54,1003.70 L1575.33,1000.90 L1570.09,998.10 L1564.82,995.30 L1559.54,992.50 L1554.24,989.70 L1548.92,986.90 L1543.59,984.10 L1538.25,981.30 L1532.89,978.50 L1527.52,975.70 L1522.14,972.90 L1516.75,970.09 L1511.35,967.29 L1505.95,964.49 L1500.55,961.69 L1495.14,958.89 L1489.73,956.09 L1484.31,953.29 L1478.90,950.49 L1473.49,947.69 L1468.07,944.89 L1462.67,942.09 L1457.26,939.29 L1451.86,936.49 L1446.46,933.69 L1441.08,930.89 L1435.69,928.09 L1430.32,925.28 L1424.95,922.48 L1419.59,919.68 L1414.25,916.88 L1408.91,914.08 L1403.58,911.28 L1398.27,908.48 L1392.97,905.68 L1387.68,902.88 L1382.40,900.08 L1377.13,897.28 L1371.89,894.48 L1366.65,891.68 L1361.43,888.88 L1356.23,886.08 L1351.04,883.28 L1345.86,880.48 L1340.71,877.67 L1335.56,874.87 L1330.44,872.07 L1325.33,869.27 L1320.25,866.47 L1315.17,863.67 L1310.12,860.87 L1305.09,858.07 L1300.07,855.27 L1295.07,852.47 L1290.09,849.67 L1285.13,846.87 L1280.19,844.07 L1275.26,841.27 L1270.36,838.47 L1265.48,835.67 L1260.61,832.86 L1255.77,830.06 L1250.94,827.26 L1246.13,824.46 L1241.35,821.66 L1236.58,818.86 L1231.84,816.06 L1227.11,813.26 L1222.40,810.46 L1217.72,807.66 L1213.05,804.86 L1208.40,802.06 L1203.78,799.26 L1199.17,796.46 L1194.59,793.66 L1190.02,790.86 L1185.48,788.05 L1180.95,785.25 L1176.45,782.45 L1171.96,779.65 L1167.50,776.85 L1163.05,774.05 L1158.63,771.25 L1154.22,768.45 L1149.84,765.65 L1145.47,762.85 L1141.13,760.05 L1136.80,757.25 L1132.50,754.45 L1128.21,751.65 L1123.95,748.85 L1119.70,746.05 L1115.48,743.24 L1111.27,740.44 L1107.08,737.64 L1102.92,734.84 L1098.77,732.04 L1094.64,729.24 L1090.53,726.44 L1086.44,723.64 L1082.37,720.84 L1078.32,718.04 L1074.29,715.24 L1070.27,712.44 L1066.28,709.64 L1062.30,706.84 L1058.35,704.04 L1054.41,701.24 L1050.49,698.43 L1046.59,695.63 L1042.71,692.83 L1038.84,690.03 L1035.00,687.23 L1031.17,684.43 L1027.36,681.63 L1023.57,678.83 L1019.80,676.03 L1016.04,673.23 L1012.31,670.43 L1008.59,667.63 L1004.89,664.83 L1001.21,662.03 L997.54,659.23 L993.89,656.43 L990.26,653.62 L986.65,650.82 L983.05,648.02 L979.47,645.22 L975.91,642.42 L972.37,639.62 L968.84,636.82 L965.33,634.02 L961.84,631.22 L958.36,628.42 L954.90,625.62 L951.46,622.82 L948.03,620.02 L944.62,617.22 L941.23,614.42 L937.85,611.62 L934.49,608.81 L931.15,606.01 L927.82,603.21 L924.51,600.41 L921.21,597.61 L917.93,594.81 L914.67,592.01 L911.42,589.21 L908.18,586.41 L904.97,583.61 L901.76,580.81 L898.58,578.01 L895.41,575.21 L892.25,572.41 L889.11,569.61 L885.98,566.81 L882.87,564.01 L879.78,561.20 L876.70,558.40 L873.63,555.60 L870.58,552.80 L867.55,550.00 L864.53,547.20 L861.52,544.40 L858.53,541.60 L855.55,538.80 L852.59,536.00 L849.64,533.20 L846.71,530.40 L843.79,527.60 L840.88,524.80 L837.99,522.00 L835.11,519.20 L832.25,516.39 L829.40,513.59 L826.56,510.79 L823.74,507.99 L820.93,505.19 L818.13,502.39 L815.35,499.59 L812.58,496.79 L809.83,493.99 L807.09,491.19 L804.36,488.39 L801.65,485.59 L798.94,482.79 L796.26,479.99 L793.58,477.19 L790.92,474.39 L788.27,471.58 L785.63,468.78 L783.01,465.98 L780.40,463.18 L777.80,460.38 L775.21,457.58 L772.64,454.78 L770.08,451.98 L767.53,449.18 L764.99,446.38 L762.47,443.58 L759.96,440.78 L757.46,437.98 L754.97,435.18 L752.49,432.38 L750.03,429.58 L747.58,426.77 L745.14,423.97 L742.71,421.17 L740.29,418.37 L737.89,415.57 L735.50,412.77 L733.12,409.97 L730.75,407.17 L728.39,404.37 L726.04,401.57 L723.71,398.77 L721.38,395.97 L719.07,393.17 L716.77,390.37 L714.48,387.57 L712.20,384.77 L709.93,381.96 L707.68,379.16 L705.43,376.36 L703.20,373.56 L700.97,370.76 L698.76,367.96 L696.55,365.16 L694.36,362.36 L692.18,359.56 L690.01,356.76 L687.85,353.96 L685.70,351.16 L683.56,348.36 L681.43,345.56 L679.31,342.76 L677.20,339.96"/></g>
<path stroke-dasharray="53 28.6 7.15 28.3" d="M1088.3,359.51 H1350.8"/>
</g>
<g stroke="#FF5500" stroke-width="8.3">
<g clip-path="url(#plot)"><path d="M1418.99,1737.46 L1418.96,1734.66 L1418.94,1731.86 L1418.91,1729.06 L1418.88,1726.26 L1418.85,1723.46 L1418.82,1720.66 L1418.78,1717.86 L1418.75,1715.06 L1418.71,1712.26 L1418.68,1709.46 L1418.64,1706.66 L1418.60,1703.86 L1418.55,1701.06 L1418.51,1698.26 L1418.46,1695.46 L1418.41,1692.65 L1418.36,1689.85 L1418.31,1687.05 L1418.26,1684.25 L1418.20,1681.45 L1418.14,1678.65 L1418.08,1675.85 L1418.01,1673.05 L1417.94,1670.25 L1417.87,1667.45 L1417.80,1664.65 L1417.72,1661.85 L1417.64,1659.05 L1417.56,1656.25 L1417.47,1653.45 L1417.38,1650.65 L1417.29,1647.84 L1417.19,1645.04 L1417.08,1642.24 L1416.98,1639.44 L1416.86,1636.64 L1416.75,1633.84 L1416.63,1631.04 L1416.50,1628.24 L1416.37,1625.44 L1416.23,1622.64 L1416.09,1619.84 L1415.94,1617.04 L1415.78,1614.24 L1415.62,1611.44 L1415.45,1608.64 L1415.27,1605.84 L1415.08,1603.03 L1414.89,1600.23 L1414.69,1597.43 L1414.48,1594.63 L1414.26,1591.83 L1414.04,1589.03 L1413.80,1586.23 L1413.55,1583.43 L1413.30,1580.63 L1413.03,1577.83 L1412.75,1575.03 L1412.46,1572.23 L1412.16,1569.43 L1411.84,1566.63 L1411.51,1563.83 L1411.17,1561.03 L1410.81,1558.22 L1410.44,1555.42 L1410.06,1552.62 L1409.65,1549.82 L1409.23,1547.02 L1408.80,1544.22 L1408.34,1541.42 L1407.87,1538.62 L1407.38,1535.82 L1406.86,1533.02 L1406.33,1530.22 L1405.78,1527.42 L1405.20,1524.62 L1404.60,1521.82 L1403.97,1519.02 L1403.32,1516.22 L1402.65,1513.41 L1401.94,1510.61 L1401.21,1507.81 L1400.45,1505.01 L1399.66,1502.21 L1398.84,1499.41 L1397.99,1496.61 L1397.10,1493.81 L1396.18,1491.01 L1395.22,1488.21 L1394.23,1485.41 L1393.20,1482.61 L1392.13,1479.81 L1391.01,1477.01 L1389.86,1474.21 L1388.66,1471.41 L1387.42,1468.61 L1386.13,1465.80 L1384.80,1463.00 L1383.42,1460.20 L1381.98,1457.40 L1380.50,1454.60 L1378.96,1451.80 L1377.36,1449.00 L1375.71,1446.20 L1374.01,1443.40 L1372.24,1440.60 L1370.41,1437.80 L1368.52,1435.00 L1366.57,1432.20 L1364.55,1429.40 L1362.47,1426.60 L1360.32,1423.80 L1358.09,1420.99 L1355.80,1418.19 L1353.44,1415.39 L1351.00,1412.59 L1348.48,1409.79 L1345.89,1406.99 L1343.23,1404.19 L1340.48,1401.39 L1337.65,1398.59 L1334.75,1395.79 L1331.76,1392.99 L1328.69,1390.19 L1325.54,1387.39 L1322.30,1384.59 L1318.98,1381.79 L1315.57,1378.99 L1312.08,1376.18 L1308.50,1373.38 L1304.83,1370.58 L1301.08,1367.78 L1297.24,1364.98 L1293.32,1362.18 L1289.31,1359.38 L1285.21,1356.58 L1281.03,1353.78 L1276.76,1350.98 L1272.41,1348.18 L1267.98,1345.38 L1263.46,1342.58 L1258.87,1339.78 L1254.19,1336.98 L1249.44,1334.18 L1244.61,1331.37 L1239.70,1328.57 L1234.72,1325.77 L1229.66,1322.97 L1224.54,1320.17 L1219.35,1317.37 L1214.09,1314.57 L1208.77,1311.77 L1203.39,1308.97 L1197.95,1306.17 L1192.45,1303.37 L1186.90,1300.57 L1181.30,1297.77 L1175.65,1294.97 L1169.95,1292.17 L1164.21,1289.37 L1158.42,1286.56 L1152.60,1283.76 L1146.74,1280.96 L1140.86,1278.16 L1134.94,1275.36 L1128.99,1272.56 L1123.02,1269.76 L1117.03,1266.96 L1111.02,1264.16 L1104.99,1261.36 L1098.96,1258.56 L1092.91,1255.76 L1086.85,1252.96 L1080.78,1250.16 L1074.72,1247.36 L1068.65,1244.56 L1062.59,1241.75 L1056.53,1238.95 L1050.47,1236.15 L1044.43,1233.35 L1038.39,1230.55 L1032.37,1227.75 L1026.37,1224.95 L1020.38,1222.15 L1014.41,1219.35 L1008.46,1216.55 L1002.53,1213.75 L996.63,1210.95 L990.75,1208.15 L984.90,1205.35 L979.08,1202.55 L973.29,1199.75 L967.53,1196.95 L961.80,1194.14 L956.11,1191.34 L950.45,1188.54 L944.83,1185.74 L939.24,1182.94 L933.69,1180.14 L928.18,1177.34 L922.71,1174.54 L917.28,1171.74 L911.89,1168.94 L906.55,1166.14 L901.24,1163.34 L895.98,1160.54 L890.76,1157.74 L885.58,1154.94 L880.45,1152.14 L875.36,1149.33 L870.32,1146.53 L865.32,1143.73 L860.37,1140.93 L855.46,1138.13 L850.60,1135.33 L845.78,1132.53 L841.01,1129.73 L836.28,1126.93 L831.60,1124.13 L826.96,1121.33 L822.38,1118.53 L817.83,1115.73 L813.33,1112.93 L808.88,1110.13 L804.48,1107.33 L800.11,1104.52 L795.80,1101.72 L791.53,1098.92 L787.30,1096.12 L783.12,1093.32 L778.98,1090.52 L774.89,1087.72 L770.84,1084.92 L766.83,1082.12 L762.87,1079.32 L758.95,1076.52 L755.07,1073.72 L751.24,1070.92 L747.45,1068.12 L743.70,1065.32 L739.99,1062.52 L736.32,1059.71 L732.70,1056.91 L729.11,1054.11 L725.57,1051.31 L722.06,1048.51 L718.60,1045.71 L715.17,1042.91 L711.78,1040.11 L708.44,1037.31 L705.13,1034.51 L701.86,1031.71 L698.62,1028.91 L695.43,1026.11 L692.27,1023.31 L689.14,1020.51 L686.06,1017.71 L683.00,1014.90 L679.99,1012.10 L677.01,1009.30 L674.06,1006.50 L671.15,1003.70 L668.27,1000.90 L665.43,998.10 L662.62,995.30 L659.84,992.50 L657.10,989.70 L654.39,986.90 L651.71,984.10 L649.06,981.30 L646.44,978.50 L643.86,975.70 L641.30,972.90 L638.77,970.09 L636.28,967.29 L633.81,964.49 L631.38,961.69 L628.97,958.89 L626.59,956.09 L624.24,953.29 L621.92,950.49 L619.62,947.69 L617.35,944.89 L615.11,942.09 L612.90,939.29 L610.71,936.49 L608.55,933.69 L606.42,930.89 L604.31,928.09 L602.22,925.28 L600.16,922.48 L598.13,919.68 L596.12,916.88 L594.13,914.08 L592.17,911.28 L590.23,908.48 L588.31,905.68 L586.42,902.88 L584.55,900.08 L582.70,897.28 L580.88,894.48 L579.07,891.68 L577.29,888.88 L575.53,886.08 L573.79,883.28 L572.07,880.48 L570.38,877.67 L568.70,874.87 L567.04,872.07 L565.41,869.27 L563.79,866.47 L562.19,863.67 L560.61,860.87 L559.05,858.07 L557.51,855.27 L555.99,852.47 L554.49,849.67 L553.00,846.87 L551.53,844.07 L550.08,841.27 L548.65,838.47 L547.23,835.67 L545.84,832.86 L544.46,830.06 L543.09,827.26 L541.74,824.46 L540.41,821.66 L539.09,818.86 L537.79,816.06 L536.51,813.26 L535.24,810.46 L533.99,807.66 L532.75,804.86 L531.53,802.06 L530.32,799.26 L529.12,796.46 L527.95,793.66 L526.78,790.86 L525.63,788.05 L524.49,785.25 L523.37,782.45 L522.26,779.65 L521.16,776.85 L520.08,774.05 L519.01,771.25 L517.95,768.45 L516.91,765.65 L515.87,762.85 L514.86,760.05 L513.85,757.25 L512.85,754.45 L511.87,751.65 L510.90,748.85 L509.94,746.05 L508.99,743.24 L508.06,740.44 L507.13,737.64 L506.22,734.84 L505.32,732.04 L504.43,729.24 L503.54,726.44 L502.67,723.64 L501.82,720.84 L500.97,718.04 L500.13,715.24 L499.30,712.44 L498.48,709.64 L497.67,706.84 L496.87,704.04 L496.08,701.24 L495.30,698.43 L494.53,695.63 L493.77,692.83 L493.02,690.03 L492.28,687.23 L491.55,684.43 L490.82,681.63 L490.11,678.83 L489.40,676.03 L488.70,673.23 L488.01,670.43 L487.33,667.63 L486.66,664.83 L485.99,662.03 L485.33,659.23 L484.68,656.43 L484.04,653.62 L483.41,650.82 L482.79,648.02 L482.17,645.22 L481.56,642.42 L480.95,639.62 L480.36,636.82 L479.77,634.02 L479.19,631.22 L478.62,628.42 L478.05,625.62 L477.49,622.82 L476.94,620.02 L476.39,617.22 L475.85,614.42 L475.32,611.62 L474.79,608.81 L474.27,606.01 L473.76,603.21 L473.25,600.41 L472.75,597.61 L472.25,594.81 L471.77,592.01 L471.28,589.21 L470.81,586.41 L470.34,583.61 L469.87,580.81 L469.41,578.01 L468.96,575.21 L468.51,572.41 L468.07,569.61 L467.63,566.81 L467.20,564.01 L466.78,561.20 L466.36,558.40 L465.94,555.60 L465.53,552.80 L465.13,550.00 L464.73,547.20 L464.33,544.40 L463.94,541.60 L463.56,538.80 L463.18,536.00 L462.81,533.20 L462.44,530.40 L462.07,527.60 L461.71,524.80 L461.36,522.00 L461.01,519.20 L460.66,516.39 L460.32,513.59 L459.98,510.79 L459.65,507.99 L459.32,505.19 L459.00,502.39 L458.68,499.59 L458.37,496.79 L458.05,493.99 L457.75,491.19 L457.45,488.39 L457.15,485.59 L456.86,482.79 L456.57,479.99 L456.28,477.19 L456.00,474.39 L455.72,471.58 L455.45,468.78 L455.18,465.98 L454.92,463.18 L454.66,460.38 L454.40,457.58 L454.15,454.78 L453.90,451.98 L453.65,449.18 L453.41,446.38 L453.17,443.58 L452.94,440.78 L452.71,437.98 L452.48,435.18 L452.26,432.38 L452.04,429.58 L451.83,426.77 L451.62,423.97 L451.41,421.17 L451.21,418.37 L451.01,415.57 L450.82,412.77 L450.63,409.97 L450.44,407.17 L450.26,404.37 L450.08,401.57 L449.90,398.77 L449.73,395.97 L449.57,393.17 L449.40,390.37 L449.24,387.57 L449.09,384.77 L448.94,381.96 L448.79,379.16 L448.65,376.36 L448.51,373.56 L448.38,370.76 L448.25,367.96 L448.12,365.16 L448.00,362.36 L447.89,359.56 L447.77,356.76 L447.67,353.96 L447.56,351.16 L447.47,348.36 L447.37,345.56 L447.28,342.76 L447.20,339.96"/><path d="M1864.08,1737.46 L1864.06,1734.66 L1864.05,1731.86 L1864.03,1729.06 L1864.01,1726.26 L1864.00,1723.46 L1863.98,1720.66 L1863.96,1717.86 L1863.94,1715.06 L1863.92,1712.26 L1863.91,1709.46 L1863.89,1706.66 L1863.87,1703.86 L1863.85,1701.06 L1863.82,1698.26 L1863.80,1695.46 L1863.78,1692.65 L1863.76,1689.85 L1863.74,1687.05 L1863.71,1684.25 L1863.69,1681.45 L1863.66,1678.65 L1863.64,1675.85 L1863.61,1673.05 L1863.58,1670.25 L1863.56,1667.45 L1863.53,1664.65 L1863.50,1661.85 L1863.47,1659.05 L1863.44,1656.25 L1863.41,1653.45 L1863.38,1650.65 L1863.34,1647.84 L1863.31,1645.04 L1863.27,1642.24 L1863.24,1639.44 L1863.20,1636.64 L1863.17,1633.84 L1863.13,1631.04 L1863.09,1628.24 L1863.05,1625.44 L1863.01,1622.64 L1862.97,1619.84 L1862.92,1617.04 L1862.88,1614.24 L1862.83,1611.44 L1862.79,1608.64 L1862.74,1605.84 L1862.69,1603.03 L1862.64,1600.23 L1862.59,1597.43 L1862.54,1594.63 L1862.48,1591.83 L1862.43,1589.03 L1862.37,1586.23 L1862.31,1583.43 L1862.25,1580.63 L1862.19,1577.83 L1862.13,1575.03 L1862.07,1572.23 L1862.00,1569.43 L1861.93,1566.63 L1861.86,1563.83 L1861.79,1561.03 L1861.72,1558.22 L1861.65,1555.42 L1861.57,1552.62 L1861.49,1549.82 L1861.41,1547.02 L1861.33,1544.22 L1861.25,1541.42 L1861.16,1538.62 L1861.07,1535.82 L1860.98,1533.02 L1860.89,1530.22 L1860.79,1527.42 L1860.69,1524.62 L1860.59,1521.82 L1860.49,1519.02 L1860.39,1516.22 L1860.28,1513.41 L1860.17,1510.61 L1860.06,1507.81 L1859.94,1505.01 L1859.82,1502.21 L1859.70,1499.41 L1859.58,1496.61 L1859.45,1493.81 L1859.32,1491.01 L1859.18,1488.21 L1859.05,1485.41 L1858.90,1482.61 L1858.76,1479.81 L1858.61,1477.01 L1858.46,1474.21 L1858.31,1471.41 L1858.15,1468.61 L1857.98,1465.80 L1857.82,1463.00 L1857.64,1460.20 L1857.47,1457.40 L1857.29,1454.60 L1857.10,1451.80 L1856.92,1449.00 L1856.72,1446.20 L1856.52,1443.40 L1856.32,1440.60 L1856.11,1437.80 L1855.90,1435.00 L1855.68,1432.20 L1855.46,1429.40 L1855.23,1426.60 L1854.99,1423.80 L1854.75,1420.99 L1854.51,1418.19 L1854.25,1415.39 L1854.00,1412.59 L1853.73,1409.79 L1853.46,1406.99 L1853.18,1404.19 L1852.90,1401.39 L1852.60,1398.59 L1852.31,1395.79 L1852.00,1392.99 L1851.69,1390.19 L1851.37,1387.39 L1851.04,1384.59 L1850.70,1381.79 L1850.36,1378.99 L1850.00,1376.18 L1849.64,1373.38 L1849.27,1370.58 L1848.89,1367.78 L1848.50,1364.98 L1848.11,1362.18 L1847.70,1359.38 L1847.28,1356.58 L1846.86,1353.78 L1846.42,1350.98 L1845.97,1348.18 L1845.51,1345.38 L1845.05,1342.58 L1844.57,1339.78 L1844.07,1336.98 L1843.57,1334.18 L1843.06,1331.37 L1842.53,1328.57 L1841.99,1325.77 L1841.44,1322.97 L1840.88,1320.17 L1840.30,1317.37 L1839.71,1314.57 L1839.10,1311.77 L1838.49,1308.97 L1837.85,1306.17 L1837.21,1303.37 L1836.54,1300.57 L1835.87,1297.77 L1835.17,1294.97 L1834.46,1292.17 L1833.74,1289.37 L1833.00,1286.56 L1832.24,1283.76 L1831.46,1280.96 L1830.67,1278.16 L1829.86,1275.36 L1829.03,1272.56 L1828.18,1269.76 L1827.32,1266.96 L1826.43,1264.16 L1825.53,1261.36 L1824.60,1258.56 L1823.66,1255.76 L1822.69,1252.96 L1821.70,1250.16 L1820.69,1247.36 L1819.66,1244.56 L1818.61,1241.75 L1817.53,1238.95 L1816.43,1236.15 L1815.31,1233.35 L1814.16,1230.55 L1812.99,1227.75 L1811.80,1224.95 L1810.58,1222.15 L1809.33,1219.35 L1808.06,1216.55 L1806.76,1213.75 L1805.43,1210.95 L1804.08,1208.15 L1802.70,1205.35 L1801.29,1202.55 L1799.85,1199.75 L1798.39,1196.95 L1796.89,1194.14 L1795.37,1191.34 L1793.81,1188.54 L1792.22,1185.74 L1790.61,1182.94 L1788.96,1180.14 L1787.28,1177.34 L1785.56,1174.54 L1783.82,1171.74 L1782.04,1168.94 L1780.23,1166.14 L1778.38,1163.34 L1776.50,1160.54 L1774.58,1157.74 L1772.63,1154.94 L1770.64,1152.14 L1768.62,1149.33 L1766.56,1146.53 L1764.46,1143.73 L1762.33,1140.93 L1760.16,1138.13 L1757.95,1135.33 L1755.71,1132.53 L1753.42,1129.73 L1751.10,1126.93 L1748.74,1124.13 L1746.34,1121.33 L1743.90,1118.53 L1741.41,1115.73 L1738.89,1112.93 L1736.33,1110.13 L1733.73,1107.33 L1731.09,1104.52 L1728.41,1101.72 L1725.68,1098.92 L1722.91,1096.12 L1720.11,1093.32 L1717.26,1090.52 L1714.37,1087.72 L1711.44,1084.92 L1708.46,1082.12 L1705.44,1079.32 L1702.39,1076.52 L1699.29,1073.72 L1696.14,1070.92 L1692.96,1068.12 L1689.73,1065.32 L1686.46,1062.52 L1683.15,1059.71 L1679.80,1056.91 L1676.41,1054.11 L1672.97,1051.31 L1669.49,1048.51 L1665.97,1045.71 L1662.41,1042.91 L1658.81,1040.11 L1655.17,1037.31 L1651.49,1034.51 L1647.76,1031.71 L1644.00,1028.91 L1640.20,1026.11 L1636.36,1023.31 L1632.47,1020.51 L1628.55,1017.71 L1624.60,1014.90 L1620.60,1012.10 L1616.57,1009.30 L1612.49,1006.50 L1608.39,1003.70 L1604.24,1000.90 L1600.06,998.10 L1595.85,995.30 L1591.60,992.50 L1587.31,989.70 L1583.00,986.90 L1578.65,984.10 L1574.26,981.30 L1569.85,978.50 L1565.40,975.70 L1560.92,972.90 L1556.42,970.09 L1551.88,967.29 L1547.31,964.49 L1542.72,961.69 L1538.10,958.89 L1533.45,956.09 L1528.77,953.29 L1524.07,950.49 L1519.35,947.69 L1514.60,944.89 L1509.83,942.09 L1505.03,939.29 L1500.21,936.49 L1495.38,933.69 L1490.52,930.89 L1485.64,928.09 L1480.74,925.28 L1475.83,922.48 L1470.89,919.68 L1465.94,916.88 L1460.98,914.08 L1456.00,911.28 L1451.00,908.48 L1445.99,905.68 L1440.97,902.88 L1435.93,900.08 L1430.88,897.28 L1425.83,894.48 L1420.76,891.68 L1415.68,888.88 L1410.59,886.08 L1405.50,883.28 L1400.40,880.48 L1395.29,877.67 L1390.17,874.87 L1385.05,872.07 L1379.93,869.27 L1374.80,866.47 L1369.67,863.67 L1364.53,860.87 L1359.40,858.07 L1354.26,855.27 L1349.12,852.47 L1343.98,849.67 L1338.84,846.87 L1333.70,844.07 L1328.56,841.27 L1323.43,838.47 L1318.30,835.67 L1313.17,832.86 L1308.04,830.06 L1302.92,827.26 L1297.81,824.46 L1292.70,821.66 L1287.59,818.86 L1282.49,816.06 L1277.40,813.26 L1272.32,810.46 L1267.24,807.66 L1262.18,804.86 L1257.12,802.06 L1252.07,799.26 L1247.02,796.46 L1241.99,793.66 L1236.97,790.86 L1231.96,788.05 L1226.96,785.25 L1221.98,782.45 L1217.00,779.65 L1212.04,776.85 L1207.09,774.05 L1202.15,771.25 L1197.22,768.45 L1192.31,765.65 L1187.41,762.85 L1182.53,760.05 L1177.66,757.25 L1172.80,754.45 L1167.96,751.65 L1163.14,748.85 L1158.33,746.05 L1153.53,743.24 L1148.76,740.44 L1143.99,737.64 L1139.25,734.84 L1134.52,732.04 L1129.80,729.24 L1125.11,726.44 L1120.43,723.64 L1115.76,720.84 L1111.12,718.04 L1106.49,715.24 L1101.88,712.44 L1097.29,709.64 L1092.71,706.84 L1088.16,704.04 L1083.62,701.24 L1079.10,698.43 L1074.60,695.63 L1070.11,692.83 L1065.65,690.03 L1061.20,687.23 L1056.77,684.43 L1052.37,681.63 L1047.98,678.83 L1043.61,676.03 L1039.25,673.23 L1034.92,670.43 L1030.61,667.63 L1026.31,664.83 L1022.04,662.03 L1017.78,659.23 L1013.55,656.43 L1009.33,653.62 L1005.13,650.82 L1000.96,648.02 L996.80,645.22 L992.66,642.42 L988.54,639.62 L984.44,636.82 L980.36,634.02 L976.30,631.22 L972.26,628.42 L968.24,625.62 L964.24,622.82 L960.25,620.02 L956.29,617.22 L952.35,614.42 L948.42,611.62 L944.52,608.81 L940.63,606.01 L936.77,603.21 L932.92,600.41 L929.10,597.61 L925.29,594.81 L921.50,592.01 L917.73,589.21 L913.98,586.41 L910.25,583.61 L906.54,580.81 L902.85,578.01 L899.18,575.21 L895.52,572.41 L891.89,569.61 L888.27,566.81 L884.68,564.01 L881.10,561.20 L877.54,558.40 L874.00,555.60 L870.48,552.80 L866.97,550.00 L863.49,547.20 L860.02,544.40 L856.58,541.60 L853.15,538.80 L849.74,536.00 L846.34,533.20 L842.97,530.40 L839.61,527.60 L836.28,524.80 L832.96,522.00 L829.65,519.20 L826.37,516.39 L823.10,513.59 L819.85,510.79 L816.62,507.99 L813.41,505.19 L810.22,502.39 L807.04,499.59 L803.88,496.79 L800.73,493.99 L797.61,491.19 L794.50,488.39 L791.41,485.59 L788.33,482.79 L785.27,479.99 L782.23,477.19 L779.21,474.39 L776.20,471.58 L773.21,468.78 L770.24,465.98 L767.28,463.18 L764.34,460.38 L761.41,457.58 L758.50,454.78 L755.61,451.98 L752.74,449.18 L749.88,446.38 L747.03,443.58 L744.20,440.78 L741.39,437.98 L738.60,435.18 L735.81,432.38 L733.05,429.58 L730.30,426.77 L727.57,423.97 L724.85,421.17 L722.14,418.37 L719.46,415.57 L716.78,412.77 L714.12,409.97 L711.48,407.17 L708.85,404.37 L706.24,401.57 L703.64,398.77 L701.06,395.97 L698.49,393.17 L695.93,390.37 L693.39,387.57 L690.87,384.77 L688.36,381.96 L685.86,379.16 L683.38,376.36 L680.91,373.56 L678.45,370.76 L676.01,367.96 L673.59,365.16 L671.17,362.36 L668.77,359.56 L666.39,356.76 L664.02,353.96 L661.66,351.16 L659.31,348.36 L656.98,345.56 L654.66,342.76 L652.36,339.96"/></g>
<path d="M1088.3,429.23 H1350.8"/>
</g>
</g>
<g stroke="#000" fill="none">
<path stroke-width="3" d="M252.5,1636.73H277.70M252.5,1577.80H277.70M252.5,1535.99H277.70M252.5,1503.56H277.70M252.5,1477.06H277.70M252.5,1454.66H277.70M252.5,1435.25H277.70M252.5,1418.13H277.70M252.5,1302.08H277.70M252.5,1243.15H277.70M252.5,1201.34H277.70M252.5,1168.91H277.70M252.5,1142.41H277.70M252.5,1120.01H277.70M252.5,1100.60H277.70M252.5,1083.49H277.70M252.5,967.44H277.70M252.5,908.51H277.70M252.5,866.70H277.70M252.5,834.27H277.70M252.5,807.77H277.70M252.5,785.37H277.70M252.5,765.96H277.70M252.5,748.84H277.70M252.5,632.79H277.70M252.5,573.86H277.70M252.5,532.05H277.70M252.5,499.62H277.70M252.5,473.12H277.70M252.5,450.72H277.70M252.5,431.31H277.70M252.5,414.20H277.70M252.5,298.15H277.70M252.5,239.22H277.70M252.5,197.41H277.70M252.5,164.98H277.70M252.5,138.48H277.70M252.5,116.08H277.70M252.5,96.67H277.70M252.5,79.55H277.70"/>
<path stroke-width="3" d="M305.95,1737.46V1713.56M359.40,1737.46V1713.56M412.85,1737.46V1713.56M466.31,1737.46V1713.56M573.21,1737.46V1713.56M626.66,1737.46V1713.56M680.11,1737.46V1713.56M733.56,1737.46V1713.56M840.47,1737.46V1713.56M893.92,1737.46V1713.56M947.37,1737.46V1713.56M1000.82,1737.46V1713.56M1107.72,1737.46V1713.56M1161.17,1737.46V1713.56M1214.63,1737.46V1713.56M1268.08,1737.46V1713.56M1374.98,1737.46V1713.56M1428.43,1737.46V1713.56M1481.88,1737.46V1713.56M1535.33,1737.46V1713.56M1642.24,1737.46V1713.56M1695.69,1737.46V1713.56M1749.14,1737.46V1713.56M1802.59,1737.46V1713.56M1909.49,1737.46V1713.56M1962.95,1737.46V1713.56M2016.40,1737.46V1713.56M2069.85,1737.46V1713.56"/>
<path stroke-width="8" stroke-linecap="round" d="M252.5,1737.46H291.50M252.5,1402.82H291.50M252.5,1068.17H291.50M252.5,733.53H291.50M252.5,398.88H291.50M252.5,64.24H291.50M252.50,1737.46V1698.46M519.76,1737.46V1698.46M787.01,1737.46V1698.46M1054.27,1737.46V1698.46M1321.53,1737.46V1698.46M1588.79,1737.46V1698.46M1856.04,1737.46V1698.46M2123.30,1737.46V1698.46"/>
<path stroke-width="8.4" stroke-linecap="square" d="M252.5,64.24V1737.46H2123.3"/>
<path stroke-width="7.6" stroke-linecap="square" d="M252.5,64.24H2123.3V1737.46"/>
</g>
<g font-size="78.6">
<text x="208.3" y="1763.95" text-anchor="end">10</text><text x="207.3" y="1724.12" font-size="48.5">0</text>
<text x="208.3" y="1429.31" text-anchor="end">10</text><text x="207.3" y="1389.48" font-size="48.5">1</text>
<text x="208.3" y="1094.66" text-anchor="end">10</text><text x="207.3" y="1054.83" font-size="48.5">2</text>
<text x="208.3" y="760.02" text-anchor="end">10</text><text x="207.3" y="720.19" font-size="48.5">3</text>
<text x="208.3" y="425.37" text-anchor="end">10</text><text x="207.3" y="385.54" font-size="48.5">4</text>
<text x="208.3" y="90.73" text-anchor="end">10</text><text x="207.3" y="50.90" font-size="48.5">5</text>
<text x="252.80" y="1809.27" font-size="77.8" text-anchor="middle">0</text>
<text x="520.06" y="1809.27" font-size="77.8" text-anchor="middle">0.1</text>
<text x="787.31" y="1809.27" font-size="77.8" text-anchor="middle">0.2</text>
<text x="1054.57" y="1809.27" font-size="77.8" text-anchor="middle">0.3</text>
<text x="1321.83" y="1809.27" font-size="77.8" text-anchor="middle">0.4</text>
<text x="1589.09" y="1809.27" font-size="77.8" text-anchor="middle">0.5</text>
<text x="1856.34" y="1809.27" font-size="77.8" text-anchor="middle">0.6</text>
<text x="2123.60" y="1809.27" font-size="77.8" text-anchor="middle">0.7</text>
</g>
<text x="629.5" y="1903.50" font-size="85.4" font-weight="bold" xml:space="preserve">Soil Water Content (cm<tspan font-size="58" dy="-24.22">3</tspan><tspan dx="2.2" dy="24.22">.cm</tspan><tspan font-size="58" dx="1" dy="-24.22">-3</tspan><tspan dx="1.5" dy="24.22">)</tspan></text>
<text transform="translate(77.2,901.89) rotate(-90)" font-size="77.76" font-weight="bold" text-anchor="middle">|Matric Suction Head| (cm)</text>
<g font-size="57.7" font-weight="bold">
<text x="1396" y="167.27">Measured Loamy Sand</text>
<text x="1396" y="237.75">Measured Clay</text>
<text x="1396" y="307.95">Fitted VanGenuchten, 1-1/n</text>
<text x="1396" y="377.96">Fitted VanGenuchten, 1-2/n</text>
<text x="1396" y="448.44">Fitted VanGenuchten, m</text>
</g>
</g>
<g fill="none" stroke="#002060" stroke-width="4.7">
<circle cx="1095.5" cy="1327.2" r="59.3"/><circle cx="1308.8" cy="886.8" r="59.3"/>
<path d="M1050.6,1369.5 L749.4,1482.8 M1368.9,862.6 L1635,795"/>
<circle cx="586.95" cy="1565.6" r="179.5"/><circle cx="1815.2" cy="771.8" r="179.8"/>
</g>
<defs><clipPath id="r1"><rect x="425.2" y="1380" width="298.7" height="380"/></clipPath>
<clipPath id="r2"><polygon points="1690.9,560 1953.5,560 1953.5,836 1948.5,858 1944,880 1944,980 1660.1,980"/></clipPath></defs>
<g clip-path="url(#r1)">
<polygon points="588.8,1448.2 626.0,1457.6 653.2,1483.2 663.1,1518.2 653.2,1553.2 626.0,1578.8 588.8,1588.2 551.6,1578.8 524.3,1553.2 514.4,1518.2 524.3,1483.2 551.5,1457.6" fill="#FF00FF" stroke="#000" stroke-width="21" stroke-linejoin="round"/>
<path d="M458.1,1512.3L482.7,1523.4" stroke="#0000AA" stroke-width="40" stroke-linecap="round" fill="none"/>
<path d="M553.0,1555.6L577.6,1566.8" stroke="#0000AA" stroke-width="40" stroke-linecap="round" fill="none"/>
<path d="M649.0,1600.4L673.6,1611.5" stroke="#0000AA" stroke-width="40" stroke-linecap="round" fill="none"/>
<path d="M741.2,1642.6L765.8,1653.7" stroke="#0000AA" stroke-width="40" stroke-linecap="round" fill="none"/>
<path d="M486.2,1592.4L612.7,1663.5" stroke="#595959" stroke-width="23.7" stroke-linecap="round" fill="none"/>
<path d="M678.3,1702.2L692.2,1708.8" stroke="#595959" stroke-width="23.7" stroke-linecap="round" fill="none"/>
<path d="M403.9,1544.5L419.8,1553.5" stroke="#595959" stroke-width="23.7" stroke-linecap="round" fill="none"/>
<path d="M402.6,1489.2L741.5,1637.4" stroke="#FF5500" stroke-width="20.2" fill="none"/>
</g>
<g clip-path="url(#r2)">
<path d="M1655.3,657.8L1688.8,677.7" stroke="#0000AA" stroke-width="41" stroke-linecap="round" fill="none"/>
<path d="M1755.4,717.2L1788.9,737.1" stroke="#0000AA" stroke-width="41" stroke-linecap="round" fill="none"/>
<path d="M1855.5,776.7L1889.0,796.6" stroke="#0000AA" stroke-width="41" stroke-linecap="round" fill="none"/>
<path d="M1955.6,836.1L1989.1,856.0" stroke="#0000AA" stroke-width="41" stroke-linecap="round" fill="none"/>
<path d="M1713.0,769.0L1849.6,849.2" stroke="#595959" stroke-width="24" stroke-linecap="round" fill="none"/>
<path d="M1920.8,894.4L1943.4,907.3" stroke="#595959" stroke-width="24" stroke-linecap="round" fill="none"/>
<path d="M1659.9,657.7L1975.0,839.6" stroke="#FF5500" stroke-width="19.3" fill="none"/>
</g>
</svg></body></html>
